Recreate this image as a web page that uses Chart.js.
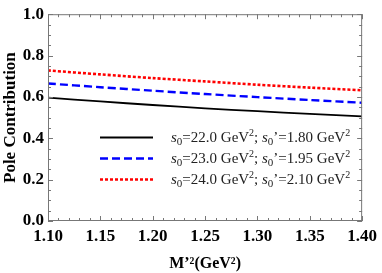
<!DOCTYPE html>
<html><head><meta charset="utf-8">
<script src="https://cdn.jsdelivr.net/npm/chart.js@4"></script>
<style>html,body{margin:0;padding:0;background:#fff}#w{width:382px;height:273px}</style>
</head><body><div id="w"><canvas id="c"></canvas></div>
<script>
const mSquared = [1.10, 1.15, 1.20, 1.25, 1.30, 1.35, 1.40];
const pole_s22 = [0.597, 0.578, 0.561, 0.545, 0.531, 0.518, 0.506];
const pole_s23 = [0.665, 0.647, 0.630, 0.614, 0.599, 0.585, 0.572];
const pole_s24 = [0.728, 0.709, 0.691, 0.675, 0.659, 0.645, 0.632];
const s0Values = ["22.0", "23.0", "24.0"];
const s0pValues = ["1.80", "1.95", "2.10"];
const colors = ["#000000", "#0000ff", "#ff0000"];
const dashes = [[], [8, 4], [3, 2]];
const widths = [1.8, 2.4, 2.6];
const series = [pole_s22, pole_s23, pole_s24];

const datasets = series.map((vals, i) => ({
  label: "s0=" + s0Values[i] + " GeV2; s0'=" + s0pValues[i] + " GeV2",
  data: mSquared.map((x, j) => ({x: x, y: vals[j]})),
  borderColor: colors[i], borderDash: dashes[i], borderWidth: widths[i],
  pointRadius: 0, fill: false, tension: 0.3
}));

const SERIF = '"Liberation Serif","Times New Roman",serif';

const boxTicks = {
  id: 'boxTicks',
  afterDraw(chart) {
    const ctx = chart.ctx, a = chart.chartArea;
    const xs = chart.scales.x, ys = chart.scales.y;
    ctx.save();
    ctx.strokeStyle = '#777';
    ctx.lineWidth = 1;
    ctx.setLineDash([]);
    ctx.strokeRect(a.left + 0.5, a.top + 0.5, a.right - a.left - 1, a.bottom - a.top - 1);
    ctx.beginPath();
    for (let k = 0; k <= 30; k++) {
      const v = 1.10 + k * 0.01;
      const px = Math.round(xs.getPixelForValue(v)) + 0.5;
      const L = (k % 5 === 0) ? 5 : 3;
      ctx.moveTo(px, a.bottom); ctx.lineTo(px, a.bottom - L);
      ctx.moveTo(px, a.top); ctx.lineTo(px, a.top + L);
    }
    for (let k = 0; k <= 20; k++) {
      const v = k * 0.05;
      const py = Math.round(ys.getPixelForValue(v)) + 0.5;
      const L = (k % 4 === 0) ? 5 : 3;
      ctx.moveTo(a.left, py); ctx.lineTo(a.left + L, py);
      ctx.moveTo(a.right, py); ctx.lineTo(a.right - L, py);
    }
    ctx.stroke();

    // legend
    const rowsY = [137, 158, 179];
    const lineX0 = 100, lineX1 = 153, textX = 171;
    for (let i = 0; i < 3; i++) {
      const y = rowsY[i];
      ctx.strokeStyle = colors[i];
      ctx.lineWidth = widths[i];
      ctx.setLineDash(dashes[i]);
      ctx.beginPath();
      ctx.moveTo(lineX0, y + 0.5); ctx.lineTo(lineX1, y + 0.5);
      ctx.stroke();
      ctx.setLineDash([]);
      ctx.fillStyle = '#222';
      ctx.textBaseline = 'alphabetic';
      const base = y + 5;
      let x = textX;
      const parts = [
        ['italic 15px ' + SERIF, 's', 0],
        ['11px ' + SERIF, '0', 3],
        ['15px ' + SERIF, '=' + s0Values[i] + ' GeV', 0],
        ['10px ' + SERIF, '2', -6],
        ['15px ' + SERIF, '; ', 0],
        ['italic 15px ' + SERIF, 's', 0],
        ['11px ' + SERIF, '0', 3],
        ['15px ' + SERIF, '\u2019=' + s0pValues[i] + ' GeV', 0],
        ['10px ' + SERIF, '2', -6]
      ];
      for (const [f, t, dy] of parts) {
        ctx.font = f;
        ctx.fillText(t, x, base + dy);
        x += ctx.measureText(t).width;
      }
    }
    ctx.restore();
  }
};

new Chart(document.getElementById('c'), {
  type: 'line',
  data: { datasets },
  options: {
    responsive: true, maintainAspectRatio: false, animation: false,
    layout: { padding: { top: 12, right: 15, left: 0, bottom: 0 } },
    plugins: { legend: { display: false }, tooltip: { enabled: false } },
    scales: {
      x: {
        type: 'linear', min: 1.10, max: 1.40,
        grid: { display: false, drawTicks: false },
        border: { display: false },
        ticks: { stepSize: 0.05, color: '#000', padding: 5,
          font: { family: SERIF, size: 17, weight: 'bold' },
          callback: v => Number(v).toFixed(2), maxRotation: 0, autoSkip: false },
        title: { display: true, text: 'M\u2019\u00b2(GeV\u00b2)', color: '#000', padding: { top: 3, bottom: 0 },
          font: { family: SERIF, size: 16, weight: 'bold' } },
        afterFit: s => { s.height = 52; }
      },
      y: {
        min: 0, max: 1.0,
        grid: { display: false, drawTicks: false },
        border: { display: false },
        ticks: { stepSize: 0.2, color: '#000', padding: 4,
          font: { family: SERIF, size: 17, weight: 'bold' },
          callback: v => Number(v).toFixed(1) },
        title: { display: true, text: 'Pole Contribution', color: '#000', padding: { top: 0, bottom: 0 },
          font: { family: SERIF, size: 17, weight: 'bold' } },
        afterFit: s => { s.width = 48; }
      }
    }
  },
  plugins: [boxTicks]
});
</script></body></html>
